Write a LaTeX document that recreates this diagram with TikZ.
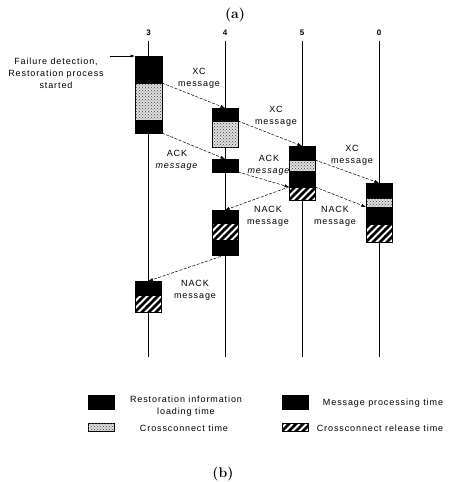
\documentclass[tikz,border=0pt]{standalone}
\usepackage{fontspec}
\newfontfamily\diagfont[LetterSpace=10]{Liberation Sans}
\usetikzlibrary{arrows.meta,positioning,patterns}

% thick diagonal stripes for the release time
\pgfdeclarepatternformonly{widestripes}{\pgfqpoint{-1pt}{-1pt}}{\pgfqpoint{8pt}{8pt}}{\pgfqpoint{7pt}{7pt}}{%
  \pgfsetlinewidth{2.6pt}%
  \pgfpathmoveto{\pgfqpoint{-1pt}{-1pt}}\pgfpathlineto{\pgfqpoint{8pt}{8pt}}%
  \pgfusepath{stroke}}

\begin{document}
\begin{tikzpicture}[
  x=1pt, y=-1pt,
  font=\diagfont\fontsize{9}{12}\selectfont,
  >={Latex[length=4.5pt,width=3.2pt]},
  node distance=0pt,
  seg/.style={draw, line width=0.5pt, minimum width=26pt, inner sep=0pt, outer sep=0pt, anchor=north},
  procSeg/.style={seg, fill=black},
  xcSeg/.style={seg, fill=gray!25, postaction={pattern=crosshatch dots, pattern color=black!75}},
  relSeg/.style={seg, fill=white, postaction={pattern=widestripes}},
  msgLabel/.style={align=center},
  keyText/.style={align=center},
  numLabel/.style={font=\diagfont\fontsize{8}{9}\selectfont\bfseries, inner ysep=5pt},
  caption/.style={font=\rmfamily\fontsize{14}{16}\selectfont\bfseries},
  timeline/.style={line width=0.7pt},
  msg/.style={->, line width=0.5pt, dash pattern=on 3pt off 1.5pt},
]
\useasboundingbox (0,0) rectangle (451,482);

\node[caption] (capA) at (235,15) {(a)};

% --- timelines of the nodes ---
\foreach \n/\x in {3/148.5,4/225,5/302,0/379}{
  \node[numLabel] (n\n) at (\x,33) {\n};
  \coordinate (e\n) at (\x,357);
  \draw[timeline] (n\n.south) -- (e\n);
}

% --- node 3 ---
\node[procSeg, minimum width=27pt, minimum height=27pt] (b3a) at (148.5,56) {};
\node[xcSeg, minimum width=27pt, minimum height=37pt, below=of b3a] (b3b) {};
\node[procSeg, minimum width=27pt, minimum height=13pt, below=of b3b] (b3c) {};
\node[procSeg, minimum height=14pt] (b3d) at (148.5,281) {};
\node[relSeg, minimum height=17pt, below=of b3d] (b3e) {};

% --- node 4 ---
\node[procSeg, minimum height=13pt] (b4a) at (225,108) {};
\node[xcSeg, minimum height=26pt, below=of b4a] (b4b) {};
\node[procSeg, minimum height=13pt] (b4c) at (225,159) {};
\node[procSeg, minimum height=13pt] (b4d) at (225,210) {};
\node[relSeg, minimum height=17pt, below=of b4d] (b4e) {};
\node[procSeg, minimum height=15pt, below=of b4e] (b4f) {};

% --- node 5 ---
\node[procSeg, minimum height=14pt] (b5a) at (302,146) {};
\node[xcSeg, minimum height=11pt, below=of b5a] (b5b) {};
\node[procSeg, minimum height=16pt, below=of b5b] (b5c) {};
\node[relSeg, minimum height=13pt, below=of b5c] (b5d) {};

% --- node 0 ---
\node[procSeg, minimum height=15pt] (b0a) at (379,183) {};
\node[xcSeg, minimum height=9pt, below=of b0a] (b0b) {};
\node[procSeg, minimum height=17pt, below=of b0b] (b0c) {};
\node[relSeg, minimum height=18pt, below=of b0c] (b0d) {};

% --- failure detection ---
\node[align=center] (failLbl) at (56,73) {Failure detection,\\Restoration process\\started};
\coordinate (fail) at (110,56);
\draw[->, line width=0.6pt] (fail) -- (b3a.north west);

% --- messages ---
\draw[msg] (b3b.north east) -- (b4a.north);
\draw[msg] (b3c.south east) -- (b4c.north);
\draw[msg] (b4b.north east) -- (b5a.north);
\draw[msg] (b5b.north east) -- (b0a.north);
\draw[msg] (b4c.south east) -- (b5d.north west);
\draw[msg] (b5d.north west) -- (b4d.north);
\draw[msg] (b5d.north east) -- (b0c.north west);
\draw[msg] (b4f.south) -- (b3d.north);

\node[msgLabel] (xc1) at (199,78) {XC\\message};
\node[msgLabel] (xc2) at (276,116) {XC\\message};
\node[msgLabel] (xc3) at (352,155) {XC\\message};
\node[msgLabel] (ack1) at (177,160) {ACK\\\textit{message}};
\node[msgLabel] (ack2) at (269,165) {ACK\\\textit{message}};
\node[msgLabel] (nack1) at (268,216) {NACK\\message};
\node[msgLabel] (nack2) at (335,216) {NACK\\message};
\node[msgLabel] (nack3) at (195,290) {NACK\\message};

% --- legend ---
\node[procSeg, minimum height=14pt] (k1) at (101,395) {};
\node[keyText] (k1t) at (186,406) {Restoration information\\loading time};
\node[xcSeg, minimum height=8pt] (k2) at (101,423) {};
\node[keyText] (k2t) at (184,428) {Crossconnect time};
\node[procSeg, minimum height=14pt] (k3) at (295,395) {};
\node[keyText] (k3t) at (383,403) {Message processing time};
\node[relSeg, minimum height=8pt] (k4) at (295,423) {};
\node[keyText] (k4t) at (380,428) {Crossconnect release time};

\node[caption] (capB) at (223,474) {(b)};
\end{tikzpicture}
\end{document}
